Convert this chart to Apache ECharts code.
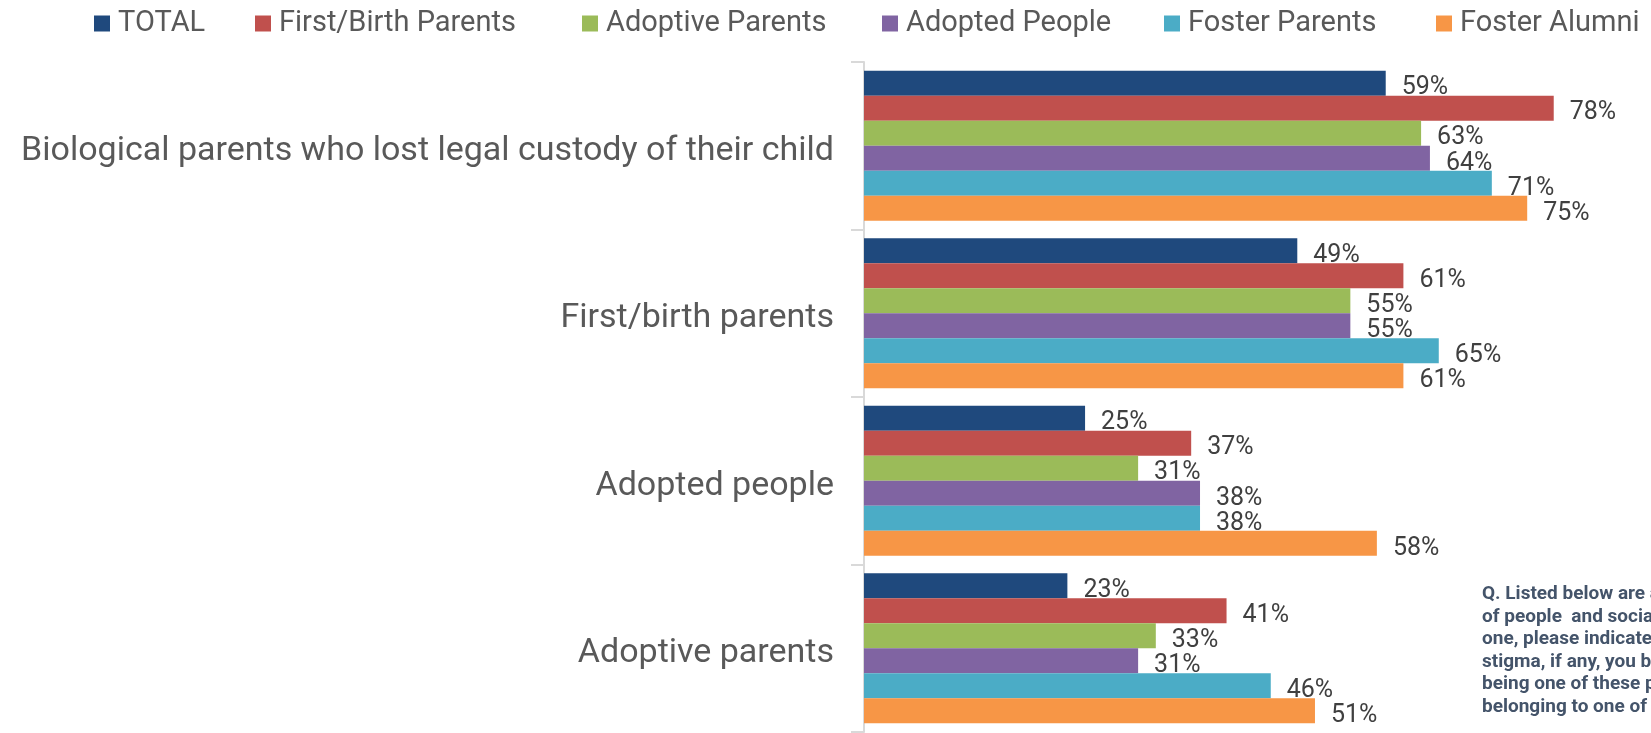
<!DOCTYPE html>
<html>
<head>
<meta charset="utf-8">
<script src="https://cdn.jsdelivr.net/npm/echarts@6/dist/echarts.min.js"></script>
<style>
  html, body { margin: 0; padding: 0; background: #fff; }
  #main { width: 1651px; height: 733px; }
</style>
</head>
<body>
<div id="main"></div>
<script>
// categories (top to bottom)
var categories = [
  'Biological parents who lost legal custody of their child',
  'First/birth parents',
  'Adopted people',
  'Adoptive parents'
];
// values in %
var total = [59, 49, 25, 23];
var firstBirthParents = [78, 61, 37, 41];
var adoptiveParents = [63, 55, 31, 33];
var adoptedPeople = [64, 55, 38, 31];
var fosterParents = [71, 65, 38, 46];
var fosterAlumni = [75, 61, 58, 51];

var seriesNames = ['TOTAL', 'First/Birth Parents', 'Adoptive Parents', 'Adopted People', 'Foster Parents', 'Foster Alumni'];
var seriesData = [total, firstBirthParents, adoptiveParents, adoptedPeople, fosterParents, fosterAlumni];
var colors = ['#1F497D', '#C0504D', '#9BBB59', '#8064A2', '#4BACC6', '#F79646'];
// x position of each legend entry (one legend per series)
var legendLefts = [94, 255, 582, 882, 1164, 1436];

var FONT = 'Roboto, sans-serif';

var noteLines = [
  'Q. Listed below are a number of groups',
  'of people  and social roles. For each',
  'one, please indicate how much social',
  'stigma, if any, you believe is attached to',
  'being one of these people or',
  'belonging to one of these groups.'
];

var myChart = echarts.init(document.getElementById('main'));

var series = seriesNames.map(function (name, i) {
  return {
    name: name,
    type: 'bar',
    data: seriesData[i],
    barGap: 0,
    barCategoryGap: '10.4%',
    itemStyle: { color: colors[i] },
    label: {
      show: true,
      position: 'right',
      distance: 16,
      offset: [0, 5],
      formatter: '{c}%',
      color: '#404040',
      fontFamily: FONT,
      fontSize: 25
    }
  };
});

var legends = seriesNames.map(function (name, i) {
  return {
    left: legendLefts[i],
    top: 9,
    padding: 0,
    itemWidth: 16,
    itemHeight: 16,
    icon: 'rect',
    textStyle: { color: '#595959', fontSize: 29, fontFamily: FONT, padding: [0, 0, 0, 3] },
    data: [name]
  };
});

var options = {
  animation: false,
  textStyle: { fontFamily: FONT },
  legend: legends,
  grid: { left: 864, right: 0, top: 62, bottom: 1, containLabel: false },
  xAxis: {
    type: 'value',
    min: 0,
    max: 89,
    show: false
  },
  yAxis: {
    type: 'category',
    inverse: true,
    data: categories,
    axisLine: { lineStyle: { color: '#D9D9D9', width: 2 } },
    axisTick: { show: true, length: 13, lineStyle: { color: '#D9D9D9', width: 2 } },
    axisLabel: {
      margin: 30,
      formatter: '{a|{value}}',
      rich: {
        a: { color: '#595959', fontSize: 34, fontFamily: FONT, padding: [11, 0, 0, 0] }
      }
    }
  },
  graphic: noteLines.map(function (t, i) {
    return {
      type: 'text',
      left: 1482,
      top: 585 + i * 22.5,
      style: { text: t, fill: '#44546A', fontSize: 19, fontWeight: 'bold', fontFamily: FONT }
    };
  }),
  series: series
};

myChart.setOption(options);
</script>
</body>
</html>
